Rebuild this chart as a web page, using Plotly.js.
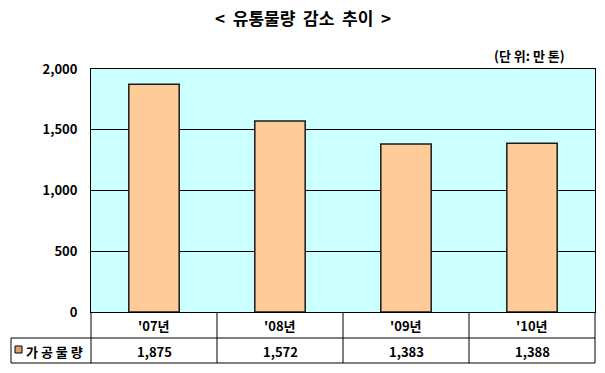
<!DOCTYPE html>
<html>
<head>
<meta charset="utf-8">
<script src="https://cdn.plot.ly/plotly-3.0.1.min.js"></script>
<style>html,body{margin:0;padding:0;background:#fff;}#chart{width:605px;height:373px;}</style>
</head>
<body>
<div id="chart"></div>
<script>
const categories = ["'07년", "'08년", "'09년", "'10년"];
const seriesName = "가공물량";
const values = [1875, 1572, 1383, 1388];
const yTicks = [0, 500, 1000, 1500, 2000];
const yTickLabels = ["0", "500", "1,000", "1,500", "2,000"];
const titleText = "&lt;  유통물량  감소  추이  &gt;";
const unitText = "(단 위: 만 톤)";

const FONT = "'Noto Sans CJK KR', 'Noto Sans', sans-serif";
const fmt = v => v.toLocaleString('en-US');

const W = 605, H = 373;
const L = 91, R = 10, T = 69, B = 61;
const pw = W - L - R, ph = H - T - B;
const px = x => (x - L) / pw;
const py = y => (H - B - y) / ph;

const shapes = [];
const line = {color: '#000', width: 1};
for (let i = 0; i <= categories.length; i++) {
  const xp = i / categories.length;
  shapes.push({type:'line', xref:'paper', yref:'paper', x0:xp, x1:xp, y0:0, y1:py(363), line});
}
shapes.push({type:'line', xref:'paper', yref:'paper', x0:px(11), x1:1, y0:py(338), y1:py(338), line});
shapes.push({type:'line', xref:'paper', yref:'paper', x0:px(11), x1:1, y0:py(363), y1:py(363), line});
shapes.push({type:'line', xref:'paper', yref:'paper', x0:px(11), x1:px(11), y0:py(338), y1:py(363), line});
shapes.push({type:'rect', xref:'paper', yref:'paper', x0:px(15), x1:px(22), y0:py(353), y1:py(346), fillcolor:'#D9A070', line:{color:'#000', width:1}});

const annotations = [];
annotations.push({xref:'paper', yref:'paper', x:px(303), y:py(17), text:'<b>' + titleText + '</b>', showarrow:false, xanchor:'center', yanchor:'middle', font:{family:FONT, size:17, color:'#000'}});
annotations.push({xref:'paper', yref:'paper', x:px(567), y:py(55), text:'<b>' + unitText + '</b>', showarrow:false, xanchor:'right', yanchor:'middle', font:{family:FONT, size:13, color:'#000'}});
categories.forEach((c, i) => {
  annotations.push({xref:'x', yref:'paper', x:c, y:py(325), text:'<b>' + c + '</b>', showarrow:false, xanchor:'center', yanchor:'middle', font:{family:FONT, size:13, color:'#000'}});
  annotations.push({xref:'x', yref:'paper', x:c, y:py(351), text:'<b>' + fmt(values[i]) + '</b>', showarrow:false, xanchor:'center', yanchor:'middle', font:{family:FONT, size:13, color:'#000'}});
});
annotations.push({xref:'paper', yref:'paper', x:px(24), y:py(351), text:'<b>' + seriesName.split('').join(' ') + '</b>', showarrow:false, xanchor:'left', yanchor:'middle', font:{family:FONT, size:13, color:'#000'}});

const trace = {
  type:'bar', x:categories, y:values, name:seriesName, width:0.4,
  marker:{color:'#FFCC99', line:{color:'#1a1a1a', width:1.5}},
  hoverinfo:'none'
};

const layout = {
  width:W, height:H,
  margin:{l:L, r:R, t:T, b:B, pad:0},
  paper_bgcolor:'#fff', plot_bgcolor:'#CCFFFF',
  showlegend:false,
  xaxis:{type:'category', showticklabels:false, ticks:'', showgrid:false, zeroline:false,
         showline:true, mirror:true, linecolor:'#000', linewidth:1, fixedrange:true},
  yaxis:{range:[0, 2000], tickvals:yTicks, ticktext:yTickLabels.map(t=>'<b>'+t+'</b>'),
         showgrid:true, gridcolor:'#000', gridwidth:1, zeroline:false,
         showline:true, mirror:true, linecolor:'#000', linewidth:1,
         ticks:'', ticklabelstandoff:10,
         tickfont:{family:FONT, size:13, color:'#000'}, fixedrange:true},
  shapes, annotations
};

Plotly.newPlot('chart', [trace], layout, {displayModeBar:false, staticPlot:true});
</script>
</body>
</html>
